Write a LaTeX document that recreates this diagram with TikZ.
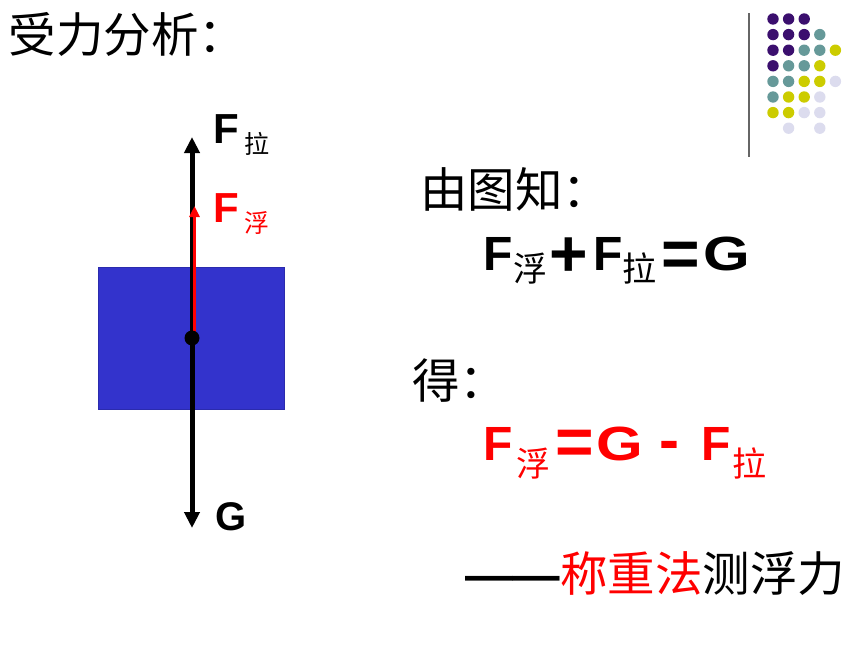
\documentclass[tikz,border=0pt]{standalone}
\usepackage{fontspec}
\setmainfont{Liberation Sans}
\newfontfamily\cjk{Noto Sans CJK SC}
\usetikzlibrary{arrows.meta}
\definecolor{dpurple}{HTML}{3B0F6E}
\definecolor{dteal}{HTML}{669999}
\definecolor{dyellow}{HTML}{CCCC00}
\definecolor{dlav}{HTML}{DCDCEE}
\definecolor{boxblue}{HTML}{3333CC}
\definecolor{fred}{HTML}{FF0000}
\begin{document}
\begin{tikzpicture}[x=1pt,y=-1pt,
  txt/.style={inner sep=0,outer sep=0,anchor=base west},
  cjkbig/.style={txt,font=\cjk\fontsize{47.5}{47.5}\selectfont},
  lat/.style={txt,font=\bfseries\fontsize{48}{48}\selectfont},
  latsm/.style={txt,font=\bfseries\fontsize{42}{42}\selectfont},
  sub/.style={txt,font=\cjk\fontsize{34}{34}\selectfont},
  subsm/.style={txt,font=\cjk\fontsize{25}{25}\selectfont},
  sym/.style={inner sep=0,outer sep=0,anchor=base,font=\bfseries\fontsize{66}{66}\selectfont},
  force/.style={line width=5pt,-{Triangle[length=16pt,width=15pt]}}
]
\useasboundingbox (0,0) rectangle (860,645);

% decoration: grey line and dot grid
\draw[gray!80!black,line width=2pt] (749,13) -- (749,157);
\foreach \c/\r/\k in {0/0/dpurple,1/0/dpurple,2/0/dpurple,
  0/1/dpurple,1/1/dpurple,2/1/dpurple,3/1/dteal,
  0/2/dpurple,1/2/dpurple,2/2/dteal,3/2/dteal,4/2/dyellow,
  0/3/dpurple,1/3/dteal,2/3/dteal,3/3/dyellow,
  0/4/dteal,1/4/dteal,2/4/dyellow,3/4/dyellow,4/4/dlav,
  0/5/dteal,1/5/dyellow,2/5/dyellow,3/5/dlav,
  0/6/dyellow,1/6/dyellow,2/6/dlav,3/6/dlav,
  1/7/dlav,3/7/dlav}
  \fill[\k] ({773+15.6*\c},{19+15.6*\r}) circle (5.7);

% title
\node[cjkbig] (title) at (9,52) {受力分析：};

% block and forces
\node[fill=boxblue,draw=boxblue!85!black,line width=0.6pt,minimum width=186pt,minimum height=142pt,inner sep=0] (box) at (191,338) {};
\coordinate (c) at (192,338);
\coordinate (ctop) at (192,137);
\coordinate (cbot) at (192,528);
\coordinate (rstart) at (194.5,338);
\coordinate (rtop) at (194.5,206);
\draw[force] (c) -- (ctop);
\draw[force] (c) -- (cbot);
\draw[fred,line width=3.2pt,-{Triangle[length=11pt,width=10pt]}] (rstart) -- (rtop);
\fill (c) circle (7.5);

\node[latsm] (fl) at (213.5,143) {F};
\node[subsm] (fls) at (244,153) {拉};
\node[latsm,text=fred] (ff) at (213.5,222) {F};
\node[subsm,text=fred] (ffs) at (244,232) {浮};
\node[txt,font=\bfseries\fontsize{40}{40}\selectfont] (g) at (215,530) {G};

% from the figure
\node[cjkbig] (know) at (420,207) {由图知：};
\node[lat] (e1f) at (483.5,270) {F};
\node[sub] (e1s) at (513,281) {浮};
\node[sym] (e1p) at (569,276.5) {+};
\node[lat] (e1f2) at (593,270) {F};
\node[sub] (e1s2) at (622.5,281) {拉};
\node[sym] (e1e) at (681,276.5) {=};
\node[lat] (e1g) at (703,270) {\scalebox{1.25}[1]{G}};

% therefore
\node[cjkbig] (get) at (412,398) {得：};
\node[lat,text=fred] (e2f) at (483.5,460) {F};
\node[sub,text=fred] (e2s) at (516,476) {浮};
\node[sym,text=fred] (e2e) at (574.5,464.5) {=};
\node[lat,text=fred] (e2g) at (596,460) {\scalebox{1.25}[1]{G}};
\node[sym,text=fred,font=\bfseries\fontsize{60}{60}\selectfont] (e2m) at (669,460) {-};
\node[lat,text=fred] (e2f2) at (701.5,460) {F};
\node[sub,text=fred] (e2s2) at (732,476) {拉};

% method
\node[cjkbig] (method) at (465,591) {{\normalfont\bfseries ——}{\color{fred}称重法}测浮力};
\end{tikzpicture}
\end{document}
